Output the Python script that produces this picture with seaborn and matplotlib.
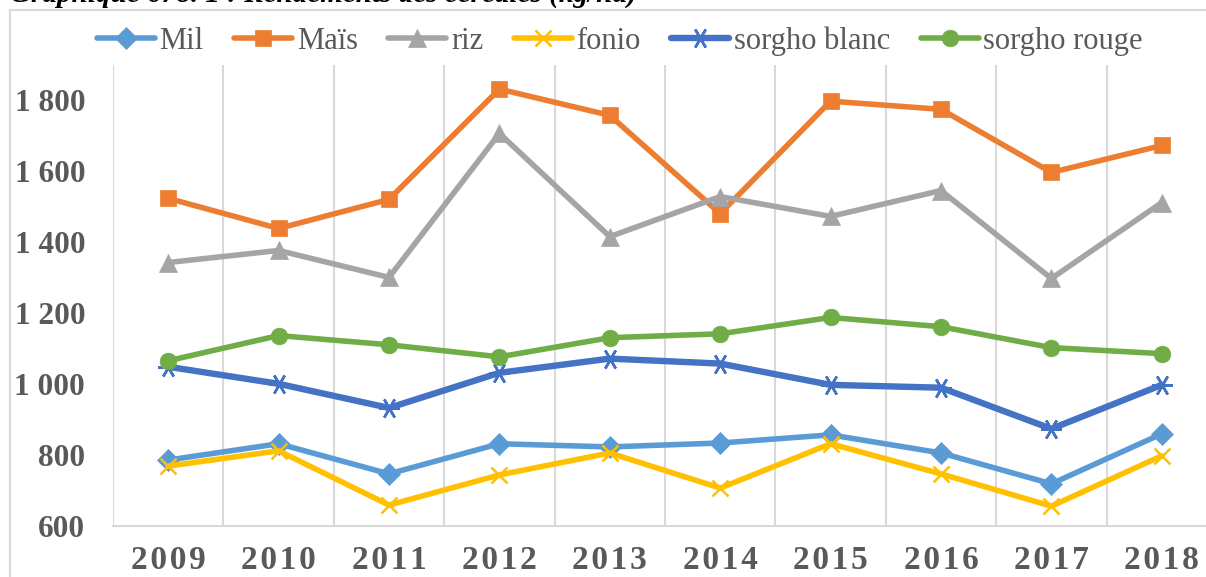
import numpy as np
import pandas as pd
import matplotlib
matplotlib.use("Agg")
import matplotlib.pyplot as plt
import seaborn as sns
from matplotlib.patches import Rectangle

# Data (kg/ha)
YEARS = ['2009', '2010', '2011', '2012', '2013', '2014', '2015', '2016', '2017', '2018']
MIL = [786, 832, 747, 832, 823, 834, 857, 806, 719, 860]
MAIS = [1524, 1439, 1521, 1832, 1758, 1481, 1798, 1775, 1597, 1673]
RIZ = [1343, 1377, 1301, 1707, 1416, 1529, 1473, 1546, 1298, 1512]
FONIO = [769, 812, 659, 744, 806, 707, 832, 747, 656, 798]
SORGHO_BLANC = [1049, 1001, 933, 1032, 1072, 1058, 998, 990, 874, 998]
SORGHO_ROUGE = [1066, 1137, 1111, 1077, 1131, 1142, 1188, 1162, 1103, 1086]
Y_TICKS = [600, 800, 1000, 1200, 1400, 1600, 1800]

TITLE = "Graphique 678. 1 : Rendements des céréales (kg/ha)"

COLORS = {
    'mil': '#5B9BD5',
    'mais': '#ED7D31',
    'riz': '#A5A5A5',
    'fonio': '#FFC000',
    'blanc': '#4472C4',
    'rouge': '#70AD47',
    'grid': '#D9D9D9',
    'text': '#595959',
}

sns.set_theme(style="white")
plt.rcParams['font.family'] = ['Liberation Serif', 'DejaVu Serif']

series = [
    ('Mil', MIL, COLORS['mil'], 'D', 11, 4.0),
    ('Maïs', MAIS, COLORS['mais'], 's', 12, 4.0),
    ('riz', RIZ, COLORS['riz'], '^', 13, 4.0),
    ('fonio', FONIO, COLORS['fonio'], 'x', 12, 4.0),
    ('sorgho blanc', SORGHO_BLANC, COLORS['blanc'], (6, 2, 90), 15, 4.6),
    ('sorgho rouge', SORGHO_ROUGE, COLORS['rouge'], 'o', 12, 4.0),
]

fig = plt.figure(figsize=(12.06, 5.77), dpi=100)
ax = fig.add_axes([113 / 1206, 1 - 526 / 577, 1104 / 1206, (526 - 65) / 577])

x = np.arange(len(YEARS))
for name, vals, col, mk, ms, lw in series:
    df = pd.DataFrame({'x': x, 'y': vals})
    unfilled = mk == 'x' or isinstance(mk, tuple)
    sns.lineplot(data=df, x='x', y='y', ax=ax, color=col, lw=lw, marker=mk,
                 ms=ms, mec=col, mew=1.8 if unfilled else 0.5, label=name)

ax.set_xlim(-0.5, len(YEARS) - 0.5)
ax.set_ylim(600, 1900)
ax.set_xticks(x)
ax.set_xticklabels(["\u200a".join(y) for y in YEARS], fontsize=24,
                   fontweight='bold', color=COLORS['text'])
ax.set_yticks(Y_TICKS)
ax.set_yticklabels([f"{v:,}".replace(",", " ") for v in Y_TICKS],
                   fontsize=22.5, fontweight='bold', color=COLORS['text'])
ax.set_xticks(np.arange(-0.5, len(YEARS)), minor=True)
ax.tick_params(axis='x', which='major', length=0, pad=14)
ax.tick_params(axis='x', which='minor', length=0)
ax.tick_params(axis='y', length=0, pad=20)
ax.grid(False)
ax.grid(axis='x', which='minor', color=COLORS['grid'], lw=1.5)
ax.set_xlabel('')
ax.set_ylabel('')
for s in ['top', 'right', 'left']:
    ax.spines[s].set_visible(False)
ax.spines['bottom'].set_color(COLORS['grid'])
ax.spines['bottom'].set_linewidth(1.5)
ax.set_facecolor('white')

handles, labels = ax.get_legend_handles_labels()
ax.get_legend().remove()
leg = fig.legend(handles, labels, loc='center', bbox_to_anchor=(0.514, 1 - 41 / 577),
                 ncol=6, frameon=False, fontsize=22, handlelength=1.9,
                 handletextpad=0.15, columnspacing=1.0, borderaxespad=0)
for t in leg.get_texts():
    t.set_color(COLORS['text'])

# chart frame (cropped on right and bottom)
fig.patches.append(Rectangle((10 / 1206, -0.1), 1.2, 1 - 10 / 577 + 0.1,
                             transform=fig.transFigure, fill=False,
                             ec=COLORS['grid'], lw=1.5))

fig.text(10 / 1206, 1 - 2 / 577, TITLE, ha='left', va='baseline', fontsize=21,
         fontweight='bold', fontstyle='italic', color='black')

fig.savefig('out.png', dpi=100)
